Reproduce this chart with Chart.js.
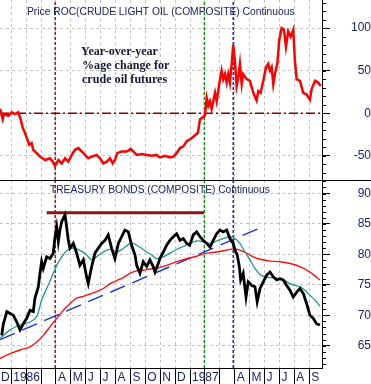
<!DOCTYPE html>
<html><head><meta charset="utf-8">
<script src="https://cdn.jsdelivr.net/npm/chart.js@4.4.1/dist/chart.umd.min.js"></script>
<style>
html,body{margin:0;padding:0;background:#fff;overflow:hidden}
#top{position:absolute;left:0;top:0;width:371px;height:180px}
#bot{position:absolute;left:0;top:180px;width:371px;height:204px}
canvas{display:block}
</style></head><body>
<div id="top"><canvas id="c1" width="371" height="180"></canvas></div>
<div id="bot"><canvas id="c2" width="371" height="204"></canvas></div>
<script>
// x values are months since 1 Jan 1986
const oilX = [-0.75,-0.57,-0.49,-0.20,0.03,0.25,0.47,0.63,0.77,0.92,1.04,1.21,1.37,1.48,1.71,1.93,2.27,2.60,2.78,2.94,3.16,3.39,3.61,3.83,4.06,4.28,4.50,4.73,4.95,5.17,5.40,5.73,5.96,6.18,6.41,6.63,6.81,6.96,7.12,7.41,7.75,8.02,8.19,8.42,8.76,9.09,9.43,9.76,9.98,10.32,10.65,10.88,11.10,11.33,11.55,11.78,11.98,12.20,12.40,12.53,
  12.67,13.00,13.12,13.23,13.34,13.45,13.68,13.79,13.96,14.12,14.23,14.35,14.46,14.57,14.68,14.80,14.90,15.02,15.13,15.24,15.35,15.47,15.57,15.80,16.02,16.25,16.47,16.58,16.74,16.92,17.10,17.25,17.37,17.48,17.59,17.70,17.86,17.99,18.15,18.31,18.44,18.59,18.76,18.93,19.04,19.16,19.38,19.60,19.83,20.05,20.16,20.39,20.61,20.77];
const oilROC = [5,-7,-1,-3,1,-1,1,-7,-17,-23,-29,-37,-35,-43,-47,-51,-55,-53,-57,-62,-55,-59,-53,-57,-49,-43,-41,-45,-49,-53,-51,-49,-53,-59,-57,-53,-59,-55,-47,-45,-45,-42,-45,-49,-48,-49,-50,-49,-52,-50,-52,-51,-47,-41,-39,-33,-31,-28,-25,-23,
  -7,-3,18,9,14,5,24,14,34,50,40,46,36,46,36,58,80,60,32,42,58,34,46,40,38,24,15,26,24,38,54,58,50,54,34,46,58,86,100,98,78,96,90,98,62,40,38,24,22,16,28,38,36,32];

const bondX = [-0.64,-0.53,-0.42,-0.30,-0.08,0.14,0.37,0.59,0.81,1.04,1.26,1.48,1.59,1.82,1.93,2.04,2.15,2.38,2.60,2.82,2.94,3.05,3.16,3.27,3.39,3.61,3.72,3.83,3.94,4.17,4.39,4.61,4.84,5.06,5.17,5.40,5.62,5.84,6.07,6.29,6.51,6.74,6.96,7.19,7.41,7.63,7.86,8.08,8.31,8.42,8.64,8.86,9.09,9.31,9.53,9.65,9.87,
  9.98,10.21,10.43,10.65,10.88,11.10,11.33,11.55,11.78,11.98,12.22,12.45,12.67,12.89,13.12,13.34,13.56,13.79,14.01,14.23,14.46,14.68,14.90,15.02,15.17,15.31,15.40,15.57,15.76,15.91,16.14,16.36,16.51,16.70,16.92,17.14,17.37,17.59,17.82,18.04,18.26,18.49,18.71,18.93,19.16,19.38,19.60,19.83,20.05,20.27,20.50,20.72];
const bondPrice = [66.7,68.6,69.5,70.6,70.3,70.0,68.9,67.6,68.6,69.5,70.8,70.6,72.8,74.7,76.9,78.8,77.7,79.6,79.3,80.2,82.9,84.5,82.1,84.0,85.4,86.5,84.5,82.3,81.0,81.8,80.2,78.2,79.1,76.3,75.2,78.0,80.2,81.0,81.8,82.3,83.2,81.0,79.3,81.8,82.9,84.0,83.7,81.5,79.9,78.2,76.9,78.8,78.0,79.1,78.0,77.1,78.5,
  79.3,80.4,81.5,82.3,82.9,83.4,82.3,82.6,81.8,81.5,83.2,83.7,82.9,82.3,81.8,81.2,82.3,83.4,84.0,83.7,84.0,82.6,81.8,80.7,79.9,78.0,75.8,76.9,73.0,75.5,74.9,74.7,72.2,74.4,75.5,76.6,77.1,76.3,75.8,76.0,75.8,74.9,74.1,73.0,73.8,74.4,73.6,71.9,70.0,69.5,68.6,68.4];

const fastMAX = [-0.75,-0.08,0.59,1.26,1.71,2.04,2.38,2.72,3.05,3.39,3.72,4.06,4.39,4.73,5.06,5.40,5.73,6.07,6.41,6.74,7.08,7.41,7.75,8.08,8.42,8.75,9.09,9.43,9.76,10.21,10.65,11.10,11.55,11.98,12.45,12.89,13.34,13.79,14.23,14.68,15.02,15.35,15.69,16.02,16.36,16.70,17.03,17.37,17.70,18.04,18.37,18.71,19.04,19.38,19.72,20.05,20.39,20.72];
const fastMA = [66.2,67.6,68.4,68.9,69.8,72.5,74.4,76.3,78.2,79.6,80.6,81.0,80.9,80.5,79.9,79.1,79.6,80.2,80.7,80.8,80.4,80.8,81.4,81.9,81.5,81.0,80.4,79.9,79.3,79.6,80.2,80.8,81.3,81.8,82.2,82.1,81.8,82.2,82.6,82.9,82.6,81.8,80.4,79.1,77.7,76.7,76.3,76.2,76.2,76.0,75.7,75.2,74.9,74.7,74.1,73.3,72.5,71.5];

const slowMAX = [-0.75,-0.08,0.59,1.26,1.71,2.15,2.60,3.05,3.49,3.94,4.39,4.84,5.29,5.73,6.18,6.63,7.08,7.52,7.97,8.42,8.86,9.31,9.76,10.43,11.10,11.78,12.45,13.12,13.79,14.46,14.90,15.35,15.80,16.25,16.70,17.37,18.04,18.71,19.38,20.05,20.72];
const slowMA = [62.9,63.7,64.3,64.8,65.6,66.7,68.1,69.5,70.8,71.9,72.8,73.1,73.5,73.9,74.4,75.2,75.7,76.2,76.9,77.3,77.4,77.6,77.7,78.2,78.8,79.3,79.7,80.2,80.4,80.7,80.9,80.7,80.2,79.6,79.2,78.9,78.8,78.5,78.0,77.1,75.8];

const trendX = [-0.75, 16.56];
const trendY = [66.0, 84.2];
const resistX = [2.38, 12.94];
const resistY = [86.85, 86.85];
const markerMonths = [2.95, 12.96, 14.9];

const monthTicks = [-0.82,0,1,2,3,4,5,6,7,8,9,10,11,12,13,14,15,16,17,18,19,20];
const monthLabels = ['D','1986','','','A','M','J','J','A','S','O','N','D','1987','','','A','M','J','J','A','S'];
const rocTicks = [-50,0,50,100];
const bondTicks = [65,70,75,80,85,90];

const XMIN = -0.754, XMAX = 20.86;
const ROCMIN = -78.5, ROCMAX = 133;
const BMIN = 61.34, BMAX = 92.22;
const NAVY = '#1c2466';
const GRID = '#c4c4c4';
const FONT = "'Liberation Sans', Arial, sans-serif";

const pts = (xs, ys) => xs.map((x, i) => ({x: x, y: ys[i]}));
const vline = (x, lo, hi, color) => ({data: [{x: x, y: lo}, {x: x, y: hi}], borderColor: color, borderWidth: 1.3, borderDash: [3, 2], pointRadius: 0, tension: 0});
const noPad = s => { s.paddingTop = 0; s.paddingBottom = 0; s.paddingLeft = 0; s.paddingRight = 0; };

function xScale(showLabels) {
  return {
    type: 'linear', min: XMIN, max: XMAX,
    afterBuildTicks: s => { s.ticks = monthTicks.map(v => ({value: v})); },
    afterFit: s => { s.height = showLabels ? 16 : 0; noPad(s); },
    grid: {color: GRID, lineWidth: 1, drawTicks: showLabels, tickLength: 16, tickColor: '#000', tickWidth: 1, borderDash: [3, 3]},
    border: {display: showLabels, color: '#000', width: 1, dash: [3, 3]},
    ticks: {display: showLabels, autoSkip: false, maxRotation: 0, minRotation: 0, align: 'start', labelOffset: 2, padding: -14,
      color: NAVY, font: {family: FONT, size: 12}, callback: (v, i) => monthLabels[i]}
  };
}
function yScale(min, max, tickVals, pad) {
  return {
    type: 'linear', position: 'right', min: min, max: max,
    afterBuildTicks: s => { s.ticks = tickVals.map(v => ({value: v})); },
    afterFit: s => { s.width = 49; noPad(s); },
    grid: {color: GRID, lineWidth: 1, drawTicks: true, tickLength: 8, tickColor: '#000', borderDash: [3, 3]},
    border: {display: true, color: '#000', width: 1, dash: [3, 3]},
    ticks: {color: NAVY, font: {family: FONT, size: 12}, crossAlign: 'far', padding: pad, callback: v => String(v)}
  };
}
function minorTicks(chart, step) {
  const s = chart.scales.y, ctx = chart.ctx;
  ctx.save(); ctx.strokeStyle = '#000'; ctx.lineWidth = 1;
  for (let v = Math.ceil(s.min / step) * step; v <= s.max; v += step) {
    const p = Math.round(s.getPixelForValue(v)) + 0.5;
    ctx.beginPath(); ctx.moveTo(s.left, p); ctx.lineTo(s.left + 4, p); ctx.stroke();
  }
  ctx.restore();
}
function fitText(ctx, text, x, y, width, weight, family, color) {
  ctx.font = weight + ' 12px ' + family;
  const size = 12 * width / ctx.measureText(text).width;
  ctx.font = weight + ' ' + size.toFixed(2) + 'px ' + family;
  ctx.fillStyle = color; ctx.textBaseline = 'middle'; ctx.textAlign = 'left';
  ctx.fillText(text, x, y);
  return size;
}

const common = {responsive: false, animation: false, devicePixelRatio: 1, events: [],
  layout: {padding: 0, autoPadding: false}, plugins: {legend: {display: false}, tooltip: {enabled: false}}};

new Chart(document.getElementById('c1'), {
  type: 'line',
  data: {datasets: [
    {data: pts(oilX, oilROC), borderColor: '#ff0000', borderWidth: 2.5, pointRadius: 0, tension: 0},
    {data: [{x: XMIN, y: 0}, {x: XMAX, y: 0}], borderColor: '#8b0000', borderWidth: 1.4, borderDash: [9, 3, 2, 3], pointRadius: 0},
    vline(markerMonths[0], ROCMIN, ROCMAX, '#8b0000'),
    vline(markerMonths[1], ROCMIN, ROCMAX, '#009000'),
    vline(markerMonths[2], ROCMIN, ROCMAX, '#0000dd')
  ]},
  options: Object.assign({}, common, {
    scales: {x: xScale(false), y: yScale(ROCMIN, ROCMAX, rocTicks, 17)}
  }),
  plugins: [{id: 'top', afterDraw(chart) {
    const ctx = chart.ctx;
    ctx.save();
    fitText(ctx, 'Price ROC(CRUDE LIGHT OIL (COMPOSITE) Continuous', 27, 12, 268, 'normal', FONT, NAVY);
    const fam = "'Liberation Serif', 'Times New Roman', serif";
    ctx.font = 'bold 12px ' + fam;
    const sz = 12 * 77 / ctx.measureText('Year-over-year').width;
    ctx.font = 'bold ' + sz.toFixed(2) + 'px ' + fam;
    ctx.fillStyle = '#161630'; ctx.textBaseline = 'middle';
    ctx.fillText('Year-over-year', 81, 52);
    ctx.fillText('%age change for', 82, 66);
    ctx.fillText('crude oil futures', 82, 80);
    ctx.restore();
    minorTicks(chart, 10);
  }}]
});

new Chart(document.getElementById('c2'), {
  type: 'line',
  data: {datasets: [
    {data: pts(bondX, bondPrice), borderColor: '#000', borderWidth: 2.8, pointRadius: 0, tension: 0},
    {data: pts(fastMAX, fastMA), borderColor: '#1e9a88', borderWidth: 1.3, pointRadius: 0, tension: 0.3},
    {data: pts(slowMAX, slowMA), borderColor: '#ff1010', borderWidth: 1.4, pointRadius: 0, tension: 0.3},
    {data: pts(trendX, trendY), borderColor: '#1a2fe0', borderWidth: 1.4, borderDash: [16, 8], pointRadius: 0},
    {data: pts(resistX, resistY), borderColor: '#8b1414', borderWidth: 3, pointRadius: 0},
    vline(markerMonths[0], BMIN, BMAX, '#8b0000'),
    vline(markerMonths[1], BMIN, BMAX, '#009000'),
    vline(markerMonths[2], BMIN, BMAX, '#0000dd')
  ]},
  options: Object.assign({}, common, {
    scales: {x: xScale(true), y: yScale(BMIN, BMAX, bondTicks, 23.6)}
  }),
  plugins: [{id: 'bot', afterDraw(chart) {
    const ctx = chart.ctx;
    ctx.save();
    fitText(ctx, 'TREASURY BONDS (COMPOSITE) Continuous', 50, 10, 220, 'normal', FONT, NAVY);
    ctx.strokeStyle = '#000'; ctx.lineWidth = 1;
    ctx.beginPath(); ctx.moveTo(0, 0.5); ctx.lineTo(371, 0.5); ctx.stroke();
    ctx.restore();
    minorTicks(chart, 1);
  }}]
});
</script>
</body></html>
